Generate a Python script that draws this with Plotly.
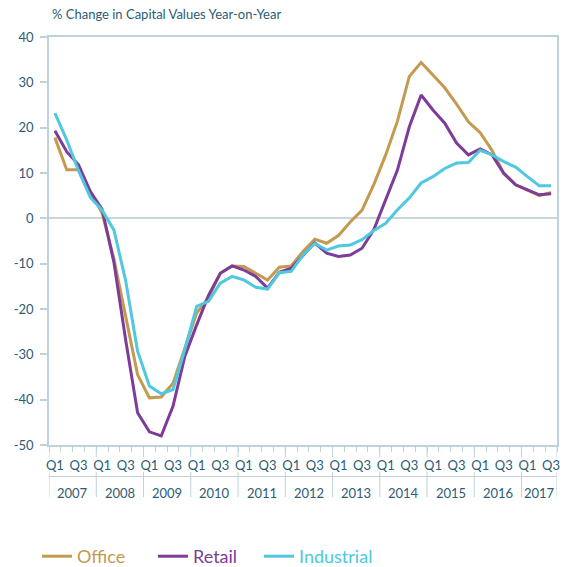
import plotly.graph_objects as go

years = ["2007", "2008", "2009", "2010", "2011", "2012", "2013", "2014", "2015", "2016", "2017"]
quarter_names = ["Q1", "Q2", "Q3", "Q4"]
quarter_shown = ["Q1", "", "Q3", ""]
n_quarters = 43  # 2007 Q1 .. 2017 Q3

office = [17.8, 10.7, 10.7, 5.9, 1.1, -9.0, -22.0, -34.5, -39.6, -39.4, -36.4, -28.5,
          -20.9, -17.5, -12.1, -10.5, -10.6, -12.1, -13.6, -10.8, -10.5, -7.3, -4.6, -5.5,
          -3.8, -0.8, 1.8, 7.5, 14.0, 21.5, 31.3, 34.4, 31.6, 28.8, 25.2, 21.3,
          18.9, 15.0, 9.9, 7.4, 6.2, 5.0, 5.7]
retail = [19.3, 14.7, 11.8, 5.9, 2.0, -9.8, -27.0, -42.9, -47.1, -48.0, -41.4, -30.4,
          -23.5, -17.0, -12.1, -10.5, -11.4, -12.8, -15.4, -11.9, -11.0, -8.1, -5.4, -7.7,
          -8.4, -8.1, -6.6, -2.5, 4.2, 10.7, 20.2, 27.2, 23.9, 21.0, 16.6, 14.0,
          15.3, 14.0, 9.9, 7.4, 6.3, 5.2, 5.4]
industrial = [23.2, 17.3, 10.5, 4.6, 1.8, -2.6, -13.9, -29.3, -37.0, -38.7, -37.8, -28.9,
              -19.4, -18.3, -14.3, -12.8, -13.6, -15.2, -15.6, -12.0, -11.7, -8.1, -5.5, -7.0,
              -6.1, -5.9, -4.7, -2.7, -1.1, 1.9, 4.5, 7.8, 9.2, 11.0, 12.2, 12.3,
              15.0, 14.0, 12.5, 11.3, 9.2, 7.2, 7.2]

series_names = ["Office", "Retail", "Industrial"]
series_colors = ["#C49A50", "#7D3C98", "#4FC8E0"]
series_values = [office, retail, industrial]

title_text = "% Change in Capital Values Year-on-Year"
y_ticks = [40, 30, 20, 10, 0, -10, -20, -30, -40, -50]
y_tick_labels = [str(v) for v in y_ticks]

TEXT = "#2B5C76"
AXIS = "#BED2DA"
FONT = "Lato, 'Open Sans', sans-serif"

x_idx = list(range(n_quarters))
tick_text = [quarter_shown[i % 4] for i in x_idx]

W, H = 565, 567
ml, mr, mt, mb = 49, 8, 37, 122
plot_h = H - mt - mb
plot_w = W - ml - mr

legend_ids = ["legend", "legend2", "legend3"]
legend_left_px = [37, 153, 259]

fig = go.Figure()
for name, col, vals, lid in zip(series_names, series_colors, series_values, legend_ids):
    fig.add_trace(go.Scatter(
        x=x_idx, y=vals, mode="lines",
        name=f"<span style='color:{col}'>{name}</span>",
        line=dict(color=col, width=3),
        legend=lid,
    ))

def py(px_below):
    # convert pixels below the plot bottom to paper coordinates
    return -px_below / plot_h

# year dividers and labels
shapes = []
annotations = []
year_starts = [4 * k - 0.5 for k in range(len(years))] + [n_quarters - 0.5]
for xb in year_starts:
    shapes.append(dict(type="line", xref="x", yref="paper", x0=xb, x1=xb,
                       y0=0, y1=py(12), line=dict(color=AXIS, width=1)))
    shapes.append(dict(type="line", xref="x", yref="paper", x0=xb, x1=xb,
                       y0=py(27), y1=py(52), line=dict(color=AXIS, width=1)))
shapes.append(dict(type="line", xref="x", yref="paper", x0=-0.5, x1=n_quarters - 0.5,
                   y0=py(31.5), y1=py(31.5), line=dict(color=AXIS, width=1)))
for k, yr in enumerate(years):
    start = 4 * k - 0.5
    end = min(4 * k + 3.5, n_quarters - 0.5)
    annotations.append(dict(x=(start + end) / 2, y=py(47.5), xref="x", yref="paper",
                            text=yr, showarrow=False, yanchor="middle",
                            font=dict(family=FONT, size=13, color=TEXT)))

annotations.append(dict(x=0, y=1, xref="paper", yref="paper", xanchor="left",
                        yanchor="bottom", yshift=13, xshift=1, text=title_text,
                        showarrow=False, font=dict(family=FONT, size=13, color=TEXT)))

legend_layouts = {}
for lid, lx in zip(legend_ids, legend_left_px):
    legend_layouts[lid] = dict(
        orientation="h", x=(lx - ml) / plot_w, y=py(111.5),
        xanchor="left", yanchor="middle",
        font=dict(family=FONT, size=18, color=TEXT),
        bgcolor="rgba(0,0,0,0)",
    )

fig.update_layout(
    width=W, height=H,
    margin=dict(l=ml, r=mr, t=mt, b=mb, autoexpand=False),
    paper_bgcolor="white", plot_bgcolor="white",
    font=dict(family=FONT, color=TEXT),
    shapes=shapes, annotations=annotations,
    showlegend=True,
    **legend_layouts,
    xaxis=dict(
        range=[-0.5, n_quarters - 0.5],
        tickmode="array", tickvals=x_idx, ticktext=tick_text,
        ticks="outside", ticklen=8, tickcolor="rgba(0,0,0,0)",
        tickfont=dict(family=FONT, size=13, color=TEXT),
        showline=True, linecolor=AXIS, linewidth=1.5,
        mirror=True, automargin=False,
        showgrid=False, zeroline=False, fixedrange=True,
        minor=dict(tickmode="linear", tick0=-0.5, dtick=1, ticks="outside",
                   ticklen=5, tickcolor=AXIS, tickwidth=1, showgrid=False),
    ),
    yaxis=dict(
        range=[-50, 40], tickmode="array", tickvals=y_ticks, ticktext=y_tick_labels,
        ticks="outside", ticklen=7, tickcolor=AXIS, tickwidth=1.5,
        tickfont=dict(family=FONT, size=13, color=TEXT),
        showline=True, linecolor=AXIS, linewidth=1.5, mirror=True, automargin=False,
        showgrid=False, zeroline=True, zerolinecolor="#C9D6DC", zerolinewidth=1.5,
        fixedrange=True, ticklabelstandoff=4,
    ),
)

fig.write_html(
    "out.html",
    config={"displayModeBar": False},
    post_script="document.body.style.margin='0';document.body.style.overflow='hidden';",
)
